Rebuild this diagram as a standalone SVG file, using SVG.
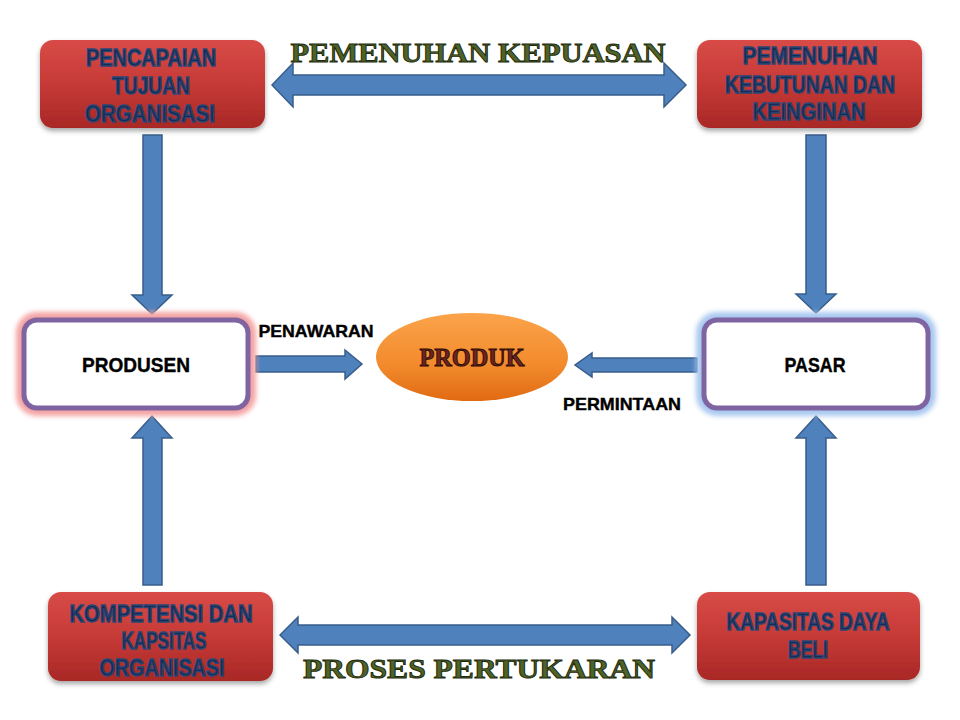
<svg xmlns="http://www.w3.org/2000/svg" width="960" height="720" viewBox="0 0 960 720">
<defs>
<linearGradient id="red" x1="0" y1="0" x2="0" y2="1">
<stop offset="0" stop-color="#d84b47"/>
<stop offset="0.5" stop-color="#c63a36"/>
<stop offset="1" stop-color="#a82826"/>
</linearGradient>
<linearGradient id="orange" x1="0" y1="0" x2="0" y2="1">
<stop offset="0" stop-color="#fba34a"/>
<stop offset="0.6" stop-color="#f28a2c"/>
<stop offset="1" stop-color="#e06a12"/>
</linearGradient>
<filter id="shadow" x="-10%" y="-10%" width="120%" height="130%">
<feDropShadow dx="0" dy="3" stdDeviation="2.5" flood-color="#000" flood-opacity="0.35"/>
</filter>
<filter id="blur" x="-10%" y="-20%" width="120%" height="140%">
<feGaussianBlur stdDeviation="2.5"/>
</filter>
</defs>
<style>
.rbox{fill:url(#red);filter:url(#shadow)}
.rt{font-family:"Liberation Sans",Arial,sans-serif;font-weight:bold;font-size:23px;fill:#172c52;stroke:#2b4676;stroke-width:1.3;text-anchor:middle}
.wbox{fill:#fff;stroke:#8064a2;stroke-width:5}
.bt{font-family:"Liberation Sans",Arial,sans-serif;font-weight:bold;fill:#000;stroke:#000;stroke-width:0.4;text-anchor:middle}
.arrow{fill:#4f81bd;stroke:#385d8a;stroke-width:1.5;stroke-linejoin:miter}
.art{font-family:"Liberation Serif","Times New Roman",serif;font-weight:bold;text-anchor:middle;stroke-width:0.9}
</style>
<rect width="960" height="720" fill="#fff"/>

<g id="connectors">
<path class="arrow" d="M272,85 L293,63 L293,75 L664,75 L664,63 L686,85 L664,107 L664,95 L293,95 L293,107 Z"/>
<path class="arrow" d="M280,635 L298,617 L298,625 L672,625 L672,617 L690,635 L672,653 L672,645 L298,645 L298,653 Z"/>
<path class="arrow" d="M143,135 L162,135 L162,295 L172,295 L152,314 L132,295 L143,295 Z"/>
<path class="arrow" d="M143,585 L162,585 L162,438 L172,438 L152,416 L132,438 L143,438 Z"/>
<path class="arrow" d="M806,135 L826,135 L826,294 L836,294 L816,313 L796,294 L806,294 Z"/>
<path class="arrow" d="M806,585 L826,585 L826,438 L836,438 L816,416 L796,438 L806,438 Z"/>
<path class="arrow" d="M256,356 L345,356 L345,350 L362,364 L345,379 L345,372 L256,372 Z"/>
<path class="arrow" d="M697,358 L592,358 L592,353 L575,365 L592,377 L592,372 L697,372 Z"/>
<text class="bt" x="316" y="337" font-size="17" textLength="115" lengthAdjust="spacingAndGlyphs">PENAWARAN</text>
<text class="bt" x="622" y="410" font-size="17" textLength="118" lengthAdjust="spacingAndGlyphs">PERMINTAAN</text>
<text class="art" x="478" y="62" font-size="28" fill="#4f6228" stroke="#1c2a0c" textLength="375" lengthAdjust="spacingAndGlyphs">PEMENUHAN KEPUASAN</text>
<text class="art" x="479" y="678" font-size="27" fill="#4f6228" stroke="#1c2a0c" textLength="352" lengthAdjust="spacingAndGlyphs">PROSES PERTUKARAN</text>
</g>

<g id="pencapaian">
<rect class="rbox" x="40" y="40" width="225" height="88" rx="13"/>
<text class="rt" x="151" y="66" textLength="130" lengthAdjust="spacingAndGlyphs">PENCAPAIAN</text>
<text class="rt" x="151" y="94" textLength="78" lengthAdjust="spacingAndGlyphs">TUJUAN</text>
<text class="rt" x="150" y="122" textLength="130" lengthAdjust="spacingAndGlyphs">ORGANISASI</text>
</g>

<g id="pemenuhan">
<rect class="rbox" x="697" y="40" width="225" height="88" rx="13"/>
<text class="rt" x="810" y="64" textLength="135" lengthAdjust="spacingAndGlyphs">PEMENUHAN</text>
<text class="rt" x="810" y="93" textLength="170" lengthAdjust="spacingAndGlyphs">KEBUTUNAN DAN</text>
<text class="rt" x="809" y="120" textLength="113" lengthAdjust="spacingAndGlyphs">KEINGINAN</text>
</g>

<g id="kompetensi">
<rect class="rbox" x="48" y="592" width="225" height="89" rx="13"/>
<text class="rt" x="161" y="622" textLength="183" lengthAdjust="spacingAndGlyphs">KOMPETENSI DAN</text>
<text class="rt" x="164" y="649" textLength="85" lengthAdjust="spacingAndGlyphs">KAPSITAS</text>
<text class="rt" x="162" y="676" textLength="125" lengthAdjust="spacingAndGlyphs">ORGANISASI</text>
</g>

<g id="kapasitas">
<rect class="rbox" x="697" y="592" width="223" height="88" rx="13"/>
<text class="rt" x="808" y="630" textLength="163" lengthAdjust="spacingAndGlyphs">KAPASITAS DAYA</text>
<text class="rt" x="808" y="658" textLength="40" lengthAdjust="spacingAndGlyphs">BELI</text>
</g>

<g id="produsen">
<rect x="22" y="318" width="228" height="92" rx="15" fill="none" stroke="#f4a3a3" stroke-width="12" filter="url(#blur)"/>
<rect class="wbox" x="24" y="320" width="224" height="88" rx="13"/>
<text class="bt" x="136" y="372" font-size="21" textLength="108" lengthAdjust="spacingAndGlyphs">PRODUSEN</text>
</g>

<g id="pasar">
<rect x="702" y="318" width="228" height="92" rx="15" fill="none" stroke="#a9c8ef" stroke-width="12" filter="url(#blur)"/>
<rect class="wbox" x="704" y="320" width="224" height="88" rx="13"/>
<text class="bt" x="815" y="372" font-size="21" textLength="61" lengthAdjust="spacingAndGlyphs">PASAR</text>
</g>

<g id="produk">
<ellipse cx="472" cy="357" rx="96" ry="44" fill="url(#orange)"/>
<text class="art" x="472" y="366" font-size="25" fill="#6e2420" stroke="#2a0a08" textLength="105" lengthAdjust="spacingAndGlyphs">PRODUK</text>
</g>
</svg>
